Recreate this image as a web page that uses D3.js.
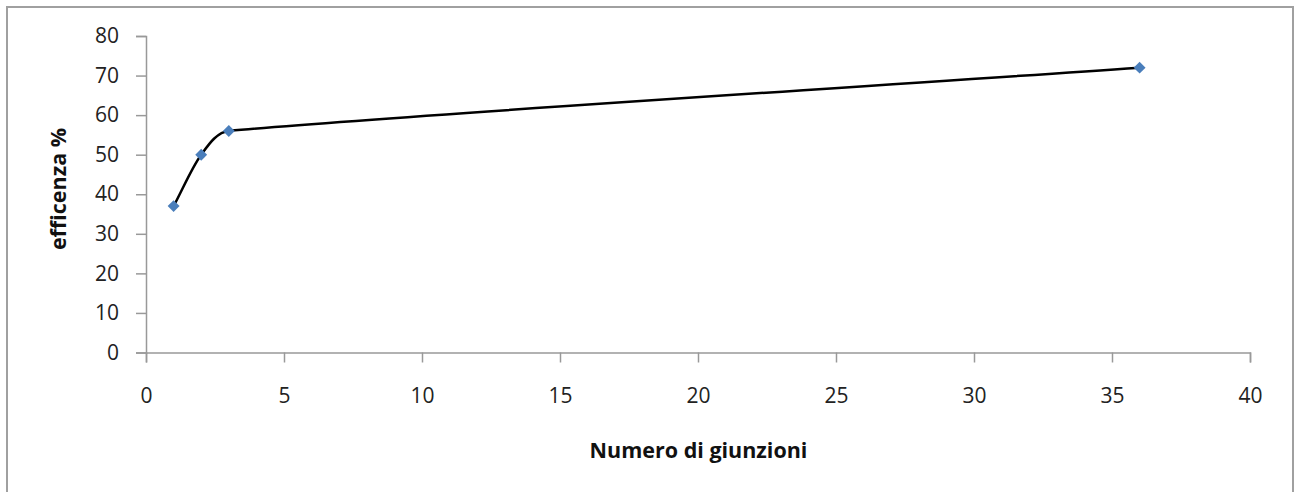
<!DOCTYPE html>
<html><head><meta charset="utf-8">
<script src="https://cdn.jsdelivr.net/npm/d3@7"></script>
<style>html,body{margin:0;padding:0;background:#fff;}svg{display:block;}</style>
</head><body>
<script>
const giunzioni = [1, 2, 3, 36];
const efficienza = [37, 50, 56, 72];
const xTicks = [0, 5, 10, 15, 20, 25, 30, 35, 40];
const yTicks = [0, 10, 20, 30, 40, 50, 60, 70, 80];
const xTitle = "Numero di giunzioni";
const yTitle = "efficenza %";

const W = 1295, H = 492;
const svg = d3.select("body").append("svg").attr("width", W).attr("height", H);
svg.append("rect").attr("x", 7).attr("y", 7).attr("width", 1286).attr("height", 500)
  .attr("fill", "#fff").attr("stroke", "#a0a0a0").attr("stroke-width", 2);

const x = d3.scaleLinear().domain([0, 40]).range([146, 1250]);
const y = d3.scaleLinear().domain([0, 80]).range([352.5, 36]);
const font = "'Open Sans', sans-serif";

const gx = svg.append("g").attr("transform", "translate(0,352.5)")
  .call(d3.axisBottom(x).tickValues(xTicks).tickSize(10).tickPadding(26).tickFormat(d3.format("d")));
const gy = svg.append("g").attr("transform", "translate(146,0)")
  .call(d3.axisLeft(y).tickValues(yTicks).tickSize(10).tickPadding(17).tickFormat(d3.format("d")));
[gx, gy].forEach(g => {
  g.select(".domain").attr("stroke", "#999").attr("stroke-width", 1.5);
  g.selectAll(".tick line").attr("stroke", "#999").attr("stroke-width", 1.5);
  g.selectAll(".tick text").attr("fill", "#222").style("font-family", font).style("font-size", "21px");
});
gx.selectAll(".tick text").attr("dy", "0.71em");

// Spreadsheet-style smoothed curve: Bezier with tangents (P[i+1]-P[i-1])/6,
// control handles limited to a third of each segment's length.
function smoothCurve(context) {
  const pts = [];
  return {
    areaStart() {}, areaEnd() {},
    lineStart() { pts.length = 0; },
    point(px, py) { pts.push([px, py]); },
    lineEnd() {
      const n = pts.length;
      if (!n) return;
      context.moveTo(pts[0][0], pts[0][1]);
      const tan = i => {
        const a = pts[Math.max(0, i - 1)], b = pts[Math.min(n - 1, i + 1)];
        const k = (i === 0 || i === n - 1) ? 1 / 3 : 1 / 6;
        return [(b[0] - a[0]) * k, (b[1] - a[1]) * k];
      };
      const clamp = (t, len) => {
        const l = Math.hypot(t[0], t[1]);
        const m = len / 3;
        return l > m ? [t[0] * m / l, t[1] * m / l] : t;
      };
      for (let i = 0; i < n - 1; i++) {
        const p0 = pts[i], p1 = pts[i + 1];
        const len = Math.hypot(p1[0] - p0[0], p1[1] - p0[1]);
        const t0 = clamp(tan(i), len), t1 = clamp(tan(i + 1), len);
        context.bezierCurveTo(p0[0] + t0[0], p0[1] + t0[1], p1[0] - t1[0], p1[1] - t1[1], p1[0], p1[1]);
      }
    }
  };
}

const data = giunzioni.map((g, i) => ({g, e: efficienza[i]}));
const line = d3.line().x(d => x(d.g)).y(d => y(d.e)).curve(smoothCurve);
svg.append("path").datum(data).attr("d", line).attr("fill", "none")
  .attr("stroke", "#000").attr("stroke-width", 2.5);

svg.selectAll(".pt").data(data).enter().append("path")
  .attr("d", d3.symbol().type(d3.symbolDiamond2).size(90))
  .attr("transform", d => `translate(${x(d.g)},${y(d.e)})`)
  .attr("fill", "#4a7ebb");

svg.append("text").attr("x", 698.5).attr("y", 458).attr("text-anchor", "middle")
  .style("font-family", font).style("font-size", "21.5px").style("font-weight", "bold").attr("fill", "#111")
  .text(xTitle);
svg.append("text").attr("transform", "translate(66,189) rotate(-90)").attr("text-anchor", "middle")
  .style("font-family", font).style("font-size", "21.5px").style("font-weight", "bold").attr("fill", "#111")
  .text(yTitle);
</script>
</body></html>
